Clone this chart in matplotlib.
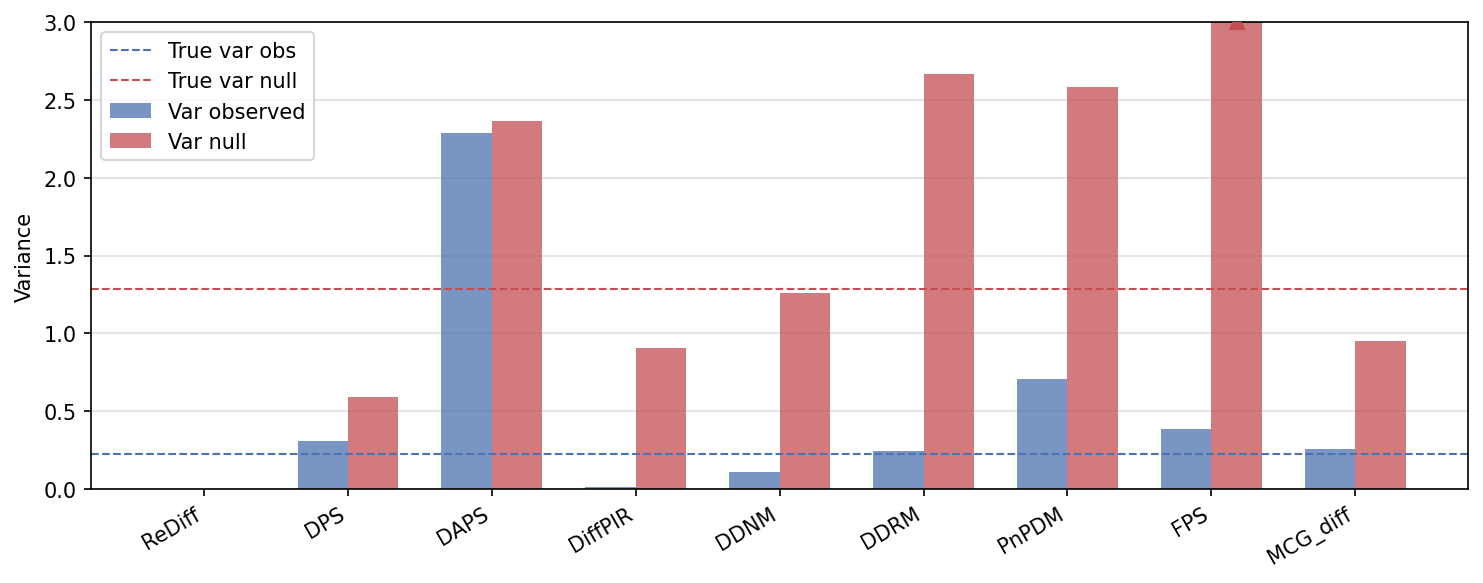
import numpy as np
import matplotlib.pyplot as plt

methods = ["ReDiff", "DPS", "DAPS", "DiffPIR", "DDNM", "DDRM", "PnPDM", "FPS", "MCG_diff"]
var_observed = [0.0, 0.31, 2.29, 0.012, 0.11, 0.245, 0.705, 0.385, 0.257]
var_null = [0.0, 0.59, 2.365, 0.905, 1.26, 2.665, 2.583, 3.6, 0.95]
true_var_obs = 0.225
true_var_null = 1.285
ymax = 3.0

blue = "#4c72b0"
red = "#c44e52"

fig, ax = plt.subplots(figsize=(9.887, 3.893), dpi=150)
x = np.arange(len(methods))
w = 0.35

ax.axhline(true_var_obs, color=blue, ls="--", lw=1.0, label="True var obs")
ax.axhline(true_var_null, color=red, ls="--", lw=1.0, label="True var null")
ax.bar(x - w / 2, var_observed, w, color=blue, alpha=0.75, label="Var observed")
ax.bar(x + w / 2, var_null, w, color=red, alpha=0.75, label="Var null")

# mark bars that go past the top of the axis
for i, v in enumerate(var_null):
    if v > ymax:
        ax.plot(x[i] + w / 2, ymax, marker="^", color=red, ms=7, zorder=3)

ax.set_ylim(0, ymax)
ax.set_ylabel("Variance")
ax.set_xticks(x)
ax.set_xticklabels(methods, rotation=30, ha="right")
ax.yaxis.grid(True, color="#e5e5e5", lw=1.0)
ax.set_axisbelow(True)
ax.legend(loc="upper left")

fig.subplots_adjust(left=0.0614, right=0.99, top=0.9606, bottom=0.161)
fig.savefig("out.png")
